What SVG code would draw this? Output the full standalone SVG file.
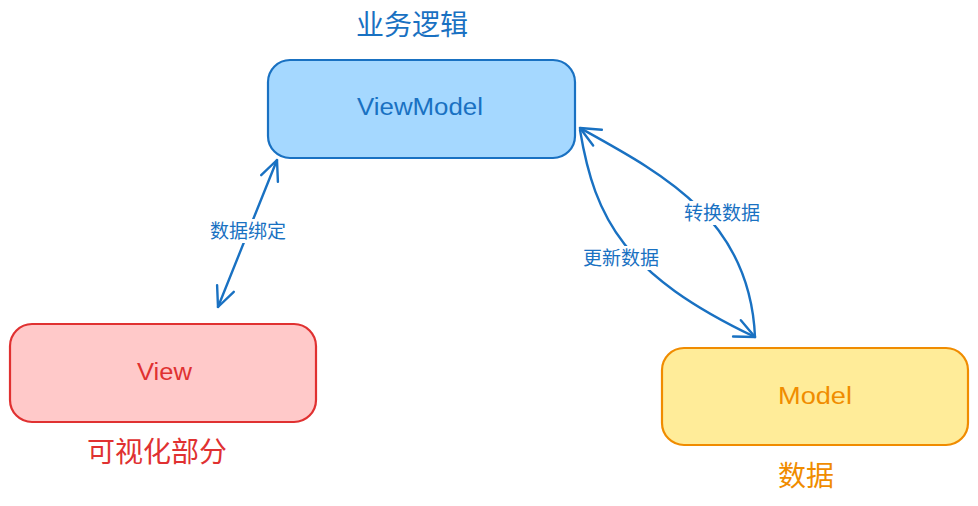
<svg xmlns="http://www.w3.org/2000/svg" width="978" height="506" viewBox="0 0 978 506">
<style>
.box{stroke-width:2.2;stroke-linejoin:round}
.nt{font-family:"Liberation Sans","DejaVu Sans",sans-serif;font-size:23px}
.cap{font-family:"Noto Sans CJK SC","Noto Sans",sans-serif;font-size:28px;text-anchor:middle}
.lbl{font-family:"Noto Sans CJK SC","Noto Sans",sans-serif;font-size:19px;text-anchor:middle;fill:#1971c2}
.edge{fill:none;stroke:#1971c2;stroke-width:2.4;stroke-linecap:round}
</style>
<defs>
<marker id="ah" markerUnits="userSpaceOnUse" markerWidth="40" markerHeight="40" viewBox="-30 -20 40 40" refX="0" refY="0" orient="auto-start-reverse">
<path d="M-20,-9 L0,0 L-20,9" fill="none" stroke="#1971c2" stroke-width="2.4" stroke-linecap="round" stroke-linejoin="round"/>
</marker>
</defs>
<rect width="978" height="506" fill="#ffffff"/>

<g id="viewmodel">
<rect class="box" x="268" y="60" width="307" height="98" rx="22" fill="#a5d8ff" stroke="#1971c2"/>
<text class="nt" x="357" y="115" textLength="126" lengthAdjust="spacingAndGlyphs" fill="#1971c2">ViewModel</text>
<text class="cap" x="412" y="35" fill="#1971c2">业务逻辑</text>
</g>

<g id="view">
<rect class="box" x="10" y="324" width="306" height="98" rx="22" fill="#ffc9c9" stroke="#e03131"/>
<text class="nt" x="137" y="380" textLength="55" lengthAdjust="spacingAndGlyphs" fill="#e03131">View</text>
<text class="cap" x="157" y="462" fill="#e03131">可视化部分</text>
</g>

<g id="model">
<rect class="box" x="662" y="348" width="306" height="97" rx="22" fill="#ffec99" stroke="#f08c00"/>
<text class="nt" x="778" y="404" textLength="74" lengthAdjust="spacingAndGlyphs" fill="#f08c00">Model</text>
<text class="cap" x="806" y="486" fill="#f08c00">数据</text>
</g>

<g id="connectors">
<path class="edge" d="M218,307 L277,160" marker-start="url(#ah)" marker-end="url(#ah)"/>
<path class="edge" d="M580,130 C595,220 625,275 755,337" marker-end="url(#ah)"/>
<path class="edge" d="M755,337 C750,220 665,175 580,128" marker-end="url(#ah)"/>
<rect x="206" y="219" width="84" height="24" fill="#ffffff"/>
<rect x="580" y="246" width="82" height="24" fill="#ffffff"/>
<rect x="681" y="201" width="83" height="24" fill="#ffffff"/>
<text class="lbl" x="248" y="238">数据绑定</text>
<text class="lbl" x="621" y="265">更新数据</text>
<text class="lbl" x="722" y="220">转换数据</text>
</g>
</svg>
